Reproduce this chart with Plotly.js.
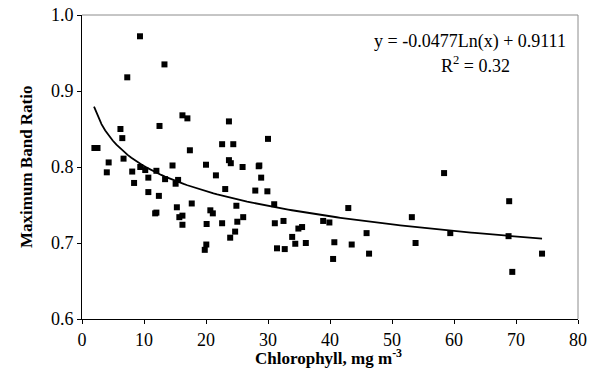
<!DOCTYPE html>
<html>
<head>
<meta charset="utf-8">
<script src="https://cdn.plot.ly/plotly-3.0.1.min.js"></script>
<style>html,body{margin:0;padding:0;background:#fff;}#chart{width:600px;height:374px;}</style>
</head>
<body>
<div id="chart"></div>
<script>
// Chlorophyll (mg m^-3)
const chl = [2.0, 2.5, 4.3, 4.0, 6.2, 6.5, 6.7, 8.1, 8.4, 9.4,
  10.2, 10.7, 10.7, 12.0, 12.4, 11.8, 12.0, 12.5, 13.4, 14.6,
  15.1, 15.5, 15.3, 15.7, 16.2, 16.2, 16.2, 17.0, 17.4, 9.35,
  13.3, 7.3, 23.7, 22.6, 24.4, 30.0, 20.0, 23.7, 24.0, 25.9,
  28.5, 28.6, 21.6, 28.9, 23.1, 27.95, 29.9, 17.7, 24.9, 31.0,
  20.7, 21.1, 20.1, 22.6, 25.05, 26.0, 24.7, 23.9, 20.05, 19.8,
  31.1, 32.5, 31.45, 32.7, 42.95, 34.9, 35.5, 38.9, 39.9, 33.9,
  34.4, 36.1, 45.9, 40.7, 43.5, 46.3, 40.5, 58.4, 53.2, 53.8,
  59.4, 68.9, 68.8, 69.4, 74.2];
// Maximum band ratio
const mbr = [0.825, 0.825, 0.806, 0.793, 0.850, 0.838, 0.811, 0.794, 0.779, 0.800,
  0.796, 0.786, 0.767, 0.795, 0.762, 0.739, 0.740, 0.854, 0.784, 0.802,
  0.778, 0.783, 0.747, 0.734, 0.736, 0.724, 0.868, 0.864, 0.822, 0.972,
  0.935, 0.918, 0.860, 0.830, 0.830, 0.837, 0.803, 0.809, 0.805, 0.800,
  0.801, 0.802, 0.789, 0.786, 0.771, 0.769, 0.768, 0.752, 0.749, 0.751,
  0.743, 0.739, 0.725, 0.726, 0.728, 0.734, 0.715, 0.707, 0.698, 0.691,
  0.726, 0.729, 0.693, 0.692, 0.746, 0.719, 0.721, 0.729, 0.727, 0.708,
  0.699, 0.700, 0.713, 0.701, 0.698, 0.686, 0.679, 0.792, 0.734, 0.700,
  0.713, 0.755, 0.709, 0.662, 0.686];
// Logarithmic trendline as shown on the chart: y = -0.0477 Ln(x) + 0.9111
const trendA = -0.0477, trendB = 0.9111;
const trendX = [];
for (let i = 0; i <= 120; i++) trendX.push(1.94 + (74.2 - 1.94) * i / 120);
const trendY = trendX.map(x => trendA * Math.log(x) + trendB);

const xTicks = [0, 10, 20, 30, 40, 50, 60, 70, 80];
const yTicks = [0.6, 0.7, 0.8, 0.9, 1.0];

const font = "'Liberation Serif', 'Times New Roman', serif";

const data = [
  {x: chl, y: mbr, type: 'scatter', mode: 'markers',
   marker: {symbol: 'square', size: 6, color: '#000'}, hoverinfo: 'skip'},
  {x: trendX, y: trendY, type: 'scatter', mode: 'lines',
   line: {color: '#000', width: 1.8}, hoverinfo: 'skip'}
];

const layout = {
  width: 600, height: 374,
  margin: {l: 82, r: 22, t: 15, b: 55},
  paper_bgcolor: '#fff', plot_bgcolor: '#fff',
  showlegend: false,
  font: {family: font, color: '#000', size: 18},
  xaxis: {
    range: [0, 80], tickvals: xTicks, ticktext: xTicks.map(String),
    showgrid: false, zeroline: false, showline: true, linecolor: '#000', linewidth: 1,
    ticks: 'outside', ticklen: 4, tickcolor: '#000',
    tickfont: {family: font, size: 18}
  },
  yaxis: {
    range: [0.6, 1.0], tickvals: yTicks, ticktext: yTicks.map(v => v.toFixed(1)),
    showgrid: false, zeroline: false, showline: true, linecolor: '#000', linewidth: 1,
    ticks: 'outside', ticklen: 4, tickcolor: '#000',
    tickfont: {family: font, size: 18}
  },
  shapes: [
    {type: 'line', xref: 'paper', yref: 'paper', x0: 0, x1: 1, y0: 1, y1: 1, line: {color: '#8c8c8c', width: 1}},
    {type: 'line', xref: 'paper', yref: 'paper', x0: 1, x1: 1, y0: 0, y1: 1, line: {color: '#8c8c8c', width: 1}}
  ],
  annotations: [
    {x: 0.496, y: -0.126, xref: 'paper', yref: 'paper', text: '<b>Chlorophyll, mg m<sup>-3</sup></b>',
     showarrow: false, font: {family: font, size: 17}, xanchor: 'center', yanchor: 'middle'},
    {x: -0.113, y: 0.5, xref: 'paper', yref: 'paper', text: '<b>Maximum Band Ratio</b>', textangle: -90,
     showarrow: false, font: {family: font, size: 17}, xanchor: 'center', yanchor: 'middle'},
    {x: 62.6, y: 0.965, xref: 'x', yref: 'y', text: 'y = -0.0477Ln(x) + 0.9111', showarrow: false,
     font: {family: font, size: 18}, xanchor: 'center', yanchor: 'middle'},
    {x: 63.4, y: 0.935, xref: 'x', yref: 'y', text: 'R<sup>2</sup> = 0.32', showarrow: false,
     font: {family: font, size: 18}, xanchor: 'center', yanchor: 'middle'}
  ]
};

Plotly.newPlot('chart', data, layout, {displayModeBar: false, staticPlot: true});
</script>
</body>
</html>
